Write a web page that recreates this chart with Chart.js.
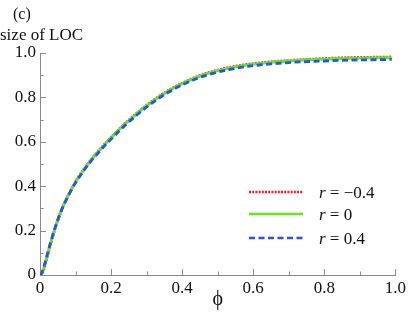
<!DOCTYPE html>
<html>
<head>
<meta charset="utf-8">
<script src="https://cdn.jsdelivr.net/npm/chart.js@4"></script>
<style>
  html, body { margin: 0; padding: 0; background: #fff; }
  canvas { display: block; }
</style>
</head>
<body>
<canvas id="locChart" width="409" height="313"></canvas>
<script>
// values
const phiValues = [0, 0.005, 0.01, 0.015, 0.02, 0.03, 0.04, 0.05, 0.06, 0.08, 0.1, 0.12, 0.14, 0.16, 0.18, 0.2,
    0.24, 0.28, 0.32, 0.36, 0.4, 0.45, 0.5, 0.55, 0.6, 0.65, 0.7, 0.75, 0.8, 0.85, 0.9, 0.95, 0.99];
const locNeg = [0, 0.004, 0.022, 0.05, 0.08, 0.14, 0.196, 0.246, 0.29, 0.361, 0.42, 0.469, 0.512, 0.55, 0.586, 0.62,
    0.683, 0.739, 0.788, 0.83, 0.864, 0.898, 0.923, 0.94, 0.952, 0.96, 0.966, 0.971, 0.975, 0.978, 0.98, 0.981, 0.982];
const locZero = [0, 0.008, 0.028, 0.056, 0.086, 0.146, 0.2, 0.248, 0.291, 0.36, 0.418, 0.467, 0.51, 0.548, 0.584, 0.618,
    0.681, 0.737, 0.786, 0.828, 0.862, 0.896, 0.921, 0.938, 0.95, 0.958, 0.964, 0.969, 0.972, 0.975, 0.977, 0.978, 0.979];
const locPos = [0, 0.01, 0.031, 0.06, 0.089, 0.148, 0.201, 0.248, 0.29, 0.358, 0.415, 0.463, 0.506, 0.543, 0.579, 0.612,
    0.675, 0.731, 0.78, 0.822, 0.856, 0.89, 0.914, 0.931, 0.943, 0.951, 0.957, 0.961, 0.964, 0.967, 0.969, 0.97, 0.971];
const seriesLabels = ['\u22120.4', '0', '0.4'];
const xTicks = [0, 0.2, 0.4, 0.6, 0.8, 1.0];
const yTicks = [0, 0.2, 0.4, 0.6, 0.8, 1.0];

const serif = '"Liberation Serif", "Times New Roman", serif';
const axisGray = '#8a8a8a';
const styles = [
    { color: '#ff1a1a', dash: [2, 1.2] },
    { color: '#66e622', dash: [] },
    { color: '#2850ff', dash: [6, 3.5] }
];

function toPoints(ys) {
    return phiValues.map((x, i) => ({ x: x, y: ys[i] }));
}

function tickLabel(v) {
    return v === 0 ? '0' : v.toFixed(1);
}

const decorations = {
    id: 'decorations',
    afterDraw(chart) {
        const ctx = chart.ctx;
        const xs = chart.scales.x, ys = chart.scales.y;
        const area = chart.chartArea;
        ctx.save();
        // inward ticks, major and minor
        ctx.strokeStyle = axisGray;
        ctx.lineWidth = 1;
        for (let i = 1; i <= 10; i++) {
            const len = i % 2 === 0 ? 6 : 3.5;
            const px = Math.round(xs.getPixelForValue(i / 10)) + 0.5;
            ctx.beginPath();
            ctx.moveTo(px, area.bottom);
            ctx.lineTo(px, area.bottom - len);
            ctx.stroke();
            const py = Math.round(ys.getPixelForValue(i / 10)) + 0.5;
            ctx.beginPath();
            ctx.moveTo(area.left, py);
            ctx.lineTo(area.left + len, py);
            ctx.stroke();
        }
        // texts
        ctx.fillStyle = '#111';
        ctx.textBaseline = 'alphabetic';
        ctx.textAlign = 'left';
        ctx.font = '16px ' + serif;
        ctx.fillText('(c)', 13, 19);
        ctx.font = '17px ' + serif;
        ctx.fillText('size of LOC', 0, 40);
        ctx.textAlign = 'center';
        ctx.font = '20px ' + serif;
        ctx.fillText('\u03D5', (area.left + area.right) / 2, 305);
        // legend
        const rows = [192, 214, 238];
        chart.data.datasets.forEach((ds, i) => {
            const y = rows[i];
            ctx.strokeStyle = ds.borderColor;
            ctx.lineWidth = 2.5;
            ctx.setLineDash(ds.borderDash);
            ctx.beginPath();
            ctx.moveTo(249, y);
            ctx.lineTo(303, y);
            ctx.stroke();
            ctx.setLineDash([]);
            ctx.textAlign = 'left';
            ctx.fillStyle = '#111';
            ctx.font = 'italic 17px ' + serif;
            ctx.fillText('r', 319, y + 6);
            const w = ctx.measureText('r').width;
            ctx.font = '17px ' + serif;
            ctx.fillText(' = ' + seriesLabels[i], 319 + w, y + 6);
        });
        ctx.restore();
    }
};

const chart = new Chart(document.getElementById('locChart'), {
    type: 'line',
    data: {
        datasets: [locNeg, locZero, locPos].map((ys, i) => ({
            label: 'r = ' + seriesLabels[i],
            data: toPoints(ys),
            borderColor: styles[i].color,
            borderDash: styles[i].dash,
            borderWidth: 2.8,
            pointRadius: 0,
            order: 2 - i,
            cubicInterpolationMode: 'monotone',
            fill: false
        }))
    },
    options: {
        responsive: false,
        animation: false,
        layout: { padding: { top: 53, right: 10, left: 0, bottom: 0 } },
        plugins: { legend: { display: false }, tooltip: { enabled: false } },
        scales: {
            x: {
                type: 'linear',
                min: 0,
                max: 1,
                afterFit: s => { s.height = 38; },
                afterBuildTicks: s => { s.ticks = xTicks.map(v => ({ value: v })); },
                grid: { display: false, drawTicks: false, tickLength: 0 },
                border: { display: true, color: axisGray, width: 1 },
                ticks: {
                    padding: 3,
                    color: '#111',
                    font: { family: serif, size: 17 },
                    maxRotation: 0,
                    callback: tickLabel
                }
            },
            y: {
                type: 'linear',
                min: 0,
                max: 1,
                afterFit: s => { s.width = 40; },
                afterBuildTicks: s => { s.ticks = yTicks.map(v => ({ value: v })); },
                grid: { display: false, drawTicks: false, tickLength: 0 },
                border: { display: true, color: axisGray, width: 1 },
                ticks: {
                    padding: 4,
                    color: '#111',
                    font: { family: serif, size: 17 },
                    callback: tickLabel
                }
            }
        }
    },
    plugins: [decorations]
});
</script>
</body>
</html>
